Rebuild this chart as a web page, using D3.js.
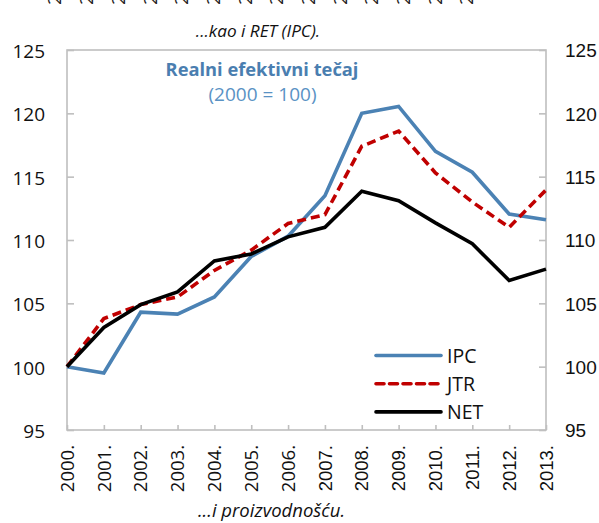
<!DOCTYPE html>
<html>
<head>
<meta charset="utf-8">
<script src="https://cdn.jsdelivr.net/npm/d3@7/dist/d3.min.js"></script>
<style>
  html, body { margin: 0; padding: 0; background: #fff; }
  svg { display: block; }
</style>
</head>
<body>
<script>
// Real effective exchange rate indices, 2000 = 100
const years = ["2000.", "2001.", "2002.", "2003.", "2004.", "2005.", "2006.",
               "2007.", "2008.", "2009.", "2010.", "2011.", "2012.", "2013."];
const ipc = [100, 99.5, 104.3, 104.15, 105.5, 108.7, 110.3, 113.5, 120.0, 120.55, 117.0, 115.35, 112.05, 111.6];
const jtr = [100, 103.8, 104.9, 105.5, 107.6, 109.2, 111.3, 112.0, 117.4, 118.6, 115.3, 113.0, 111.0, 113.95];
const net = [100, 103.1, 104.9, 105.9, 108.35, 108.9, 110.25, 111.0, 113.85, 113.1, 111.35, 109.7, 106.8, 107.7];
const yTicks = [95, 100, 105, 110, 115, 120, 125];
const seriesNames = ["IPC", "JTR", "NET"];

const W = 599, H = 523;
const plotL = 67, plotR = 546, plotT = 50, plotB = 430;

const svg = d3.select("body").append("svg").attr("width", W).attr("height", H);

const x = d3.scalePoint().domain(years).range([plotL, plotR]);
const y = d3.scaleLinear().domain([95, 125]).range([plotB, plotT]);

const leftFont = "'Open Sans', 'Noto Sans', sans-serif";
const rightFont = "'Liberation Sans', Arial, sans-serif";
const frame = "#bfbfbf";

// first digits of the year labels of the panel above, reaching into this one
const upper = d3.scalePoint().domain(years).range([55, 467]);
svg.append("g").selectAll("text").data(years).join("text")
  .attr("transform", d => `translate(${upper(d)},5) rotate(-90)`)
  .attr("text-anchor", "start").attr("dy", "0.35em")
  .attr("font-family", leftFont).attr("font-size", 18.5).attr("fill", "#222")
  .text(d => d);

// panel captions
svg.append("text").attr("x", 258).attr("y", 37).attr("text-anchor", "middle")
  .attr("font-family", leftFont).attr("font-style", "italic").attr("font-size", 17.2)
  .attr("fill", "#111").text("...kao  i RET (IPC).");
svg.append("text").attr("x", 271.5).attr("y", 517).attr("text-anchor", "middle")
  .attr("font-family", leftFont).attr("font-style", "italic").attr("font-size", 18.5)
  .attr("fill", "#111").text("...i  proizvodnošću.");

// plot frame
svg.append("rect").attr("x", plotL).attr("y", plotT)
  .attr("width", plotR - plotL).attr("height", plotB - plotT)
  .attr("fill", "none").attr("stroke", frame).attr("stroke-width", 1.6);

// left axis (ticks pointing inward)
const yl = svg.append("g").attr("transform", `translate(${plotL},0)`)
  .call(d3.axisRight(y).tickValues(yTicks).tickSize(7).tickFormat(""));
yl.select(".domain").remove();
yl.selectAll("line").attr("stroke", frame).attr("stroke-width", 1.6);
svg.append("g").selectAll("text").data(yTicks).join("text")
  .attr("x", 45).attr("y", d => y(d)).attr("dy", "0.42em").attr("text-anchor", "end")
  .attr("font-family", leftFont).attr("font-size", 19).attr("fill", "#111")
  .text(d => d);

// right axis
const yr = svg.append("g").attr("transform", `translate(${plotR},0)`)
  .call(d3.axisLeft(y).tickValues(yTicks).tickSize(7).tickFormat(""));
yr.select(".domain").remove();
yr.selectAll("line").attr("stroke", frame).attr("stroke-width", 1.6);
svg.append("g").selectAll("text").data(yTicks).join("text")
  .attr("x", 565).attr("y", d => y(d)).attr("dy", "0.38em").attr("text-anchor", "start")
  .attr("font-family", rightFont).attr("font-size", 19).attr("fill", "#111")
  .text(d => d);

// bottom axis
const xa = svg.append("g").attr("transform", `translate(0,${plotB})`)
  .call(d3.axisTop(x).tickSize(5).tickFormat(""));
xa.select(".domain").remove();
xa.selectAll("line").attr("stroke", frame).attr("stroke-width", 1.6);
svg.append("g").selectAll("text").data(years).join("text")
  .attr("transform", d => `translate(${x(d)},445) rotate(-90)`)
  .attr("text-anchor", "end").attr("dy", "0.36em")
  .attr("font-family", (d, i) => i < 7 ? leftFont : rightFont)
  .attr("font-size", 18.5).attr("fill", "#111")
  .text(d => d);

// chart title
svg.append("text").attr("x", 262).attr("y", 76).attr("text-anchor", "middle")
  .attr("font-family", leftFont).attr("font-weight", "bold").attr("font-size", 18.3)
  .attr("fill", "#4a7eb0").text("Realni efektivni tečaj");
svg.append("text").attr("x", 262.5).attr("y", 101).attr("text-anchor", "middle")
  .attr("font-family", leftFont).attr("font-size", 19)
  .attr("fill", "#5a92c4").text("(2000 = 100)");

// series
const styles = [
  { name: seriesNames[0], values: ipc, color: "#4b82b4", dash: null },
  { name: seriesNames[1], values: jtr, color: "#c00000", dash: "9,5" },
  { name: seriesNames[2], values: net, color: "#000000", dash: null }
];
const line = d3.line().x((d, i) => x(years[i])).y(d => y(d));
svg.append("g").selectAll("path").data(styles).join("path")
  .attr("d", s => line(s.values))
  .attr("fill", "none").attr("stroke", s => s.color)
  .attr("stroke-width", 3.6).attr("stroke-linejoin", "miter")
  .attr("stroke-dasharray", s => s.dash);

// legend
const lg = svg.append("g").selectAll("g").data(styles).join("g")
  .attr("transform", (s, i) => `translate(376,${355.5 + i * 28.2})`);
lg.append("line").attr("x1", 0).attr("x2", 65)
  .attr("stroke", s => s.color).attr("stroke-width", 3.6)
  .attr("stroke-linecap", "round")
  .attr("stroke-dasharray", s => s.dash ? "8,5.5" : null);
lg.append("text").attr("x", 71).attr("dy", "0.36em")
  .attr("font-family", leftFont).attr("font-size", 19.5).attr("fill", "#111")
  .text(s => s.name);
</script>
</body>
</html>
